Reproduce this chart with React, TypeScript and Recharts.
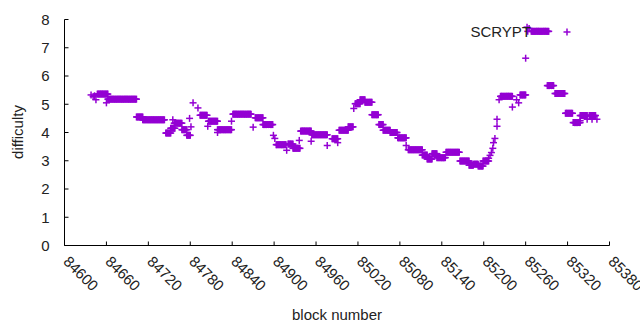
import React from "react";
import { ScatterChart, Scatter, XAxis, YAxis } from "recharts";

const PURPLE = "#9400d3";
const FONT = "'Liberation Sans', Arial, sans-serif";

const xTicks = [84600, 84660, 84720, 84780, 84840, 84900, 84960, 85020, 85080, 85140, 85200, 85260, 85320, 85380];
const yTicks = [0, 1, 2, 3, 4, 5, 6, 7, 8];

// runs of blocks that sit at the same difficulty (start block, end block, value)
const runStart = [84647, 84662, 84703, 84712, 84745, 84752, 84757, 84768, 84775, 84794, 84806, 84819, 84841, 84873, 84884, 84903, 84920, 84927, 84938, 84954, 84983, 84993, 85006, 85016, 85023, 85030, 85040, 85050, 85056, 85066, 85077, 85092, 85112, 85119, 85126, 85133, 85146, 85166, 85179, 85185, 85192, 85199, 85224, 85252, 85268, 85291, 85302, 85317, 85328, 85338, 85351];
const runEnd = [84662, 84703, 84712, 84743, 84752, 84758, 84768, 84775, 84780, 84804, 84819, 84839, 84867, 84884, 84898, 84917, 84927, 84937, 84953, 84976, 84991, 85006, 85013, 85023, 85030, 85040, 85049, 85056, 85066, 85076, 85089, 85112, 85119, 85126, 85133, 85145, 85165, 85179, 85185, 85192, 85199, 85207, 85241, 85260, 85293, 85300, 85316, 85327, 85338, 85348, 85360];
const runValue = [5.36, 5.18, 4.55, 4.45, 3.98, 4.15, 4.33, 4.1, 3.9, 4.61, 4.4, 4.1, 4.65, 4.52, 4.28, 3.57, 3.59, 3.44, 4.05, 3.92, 3.78, 4.08, 4.2, 5.02, 5.16, 5.07, 4.63, 4.28, 4.08, 4.0, 3.81, 3.39, 3.2, 3.06, 3.25, 3.11, 3.3, 2.99, 2.84, 2.88, 2.81, 2.99, 5.28, 5.33, 7.58, 5.66, 5.38, 4.68, 4.35, 4.6, 4.6];

// isolated blocks
const singleBlock = [84638, 84641, 84643, 84645, 84660, 84755, 84779, 84781, 84784, 84791, 84805, 84819, 84839, 84870, 84899, 84901, 84918, 84936, 84953, 84976, 84991, 85014, 85089, 85207, 85209, 85211, 85213, 85214, 85216, 85219, 85219, 85222, 85241, 85247, 85250, 85260, 85262, 85263, 85265, 85338, 85348, 85355, 85362];
const singleValue = [5.33, 5.27, 5.3, 5.16, 5.05, 4.45, 4.5, 4.2, 5.05, 4.87, 4.22, 4.0, 4.4, 4.19, 3.9, 3.79, 3.37, 3.72, 3.69, 3.54, 3.64, 4.85, 3.54, 3.09, 3.19, 3.29, 3.44, 3.64, 3.79, 4.47, 4.22, 5.16, 4.9, 5.16, 5.05, 6.63, 7.73, 7.58, 7.68, 4.42, 4.47, 4.47, 4.47];

const points: { block: number; difficulty: number }[] = [];
runStart.forEach((s, i) => {
  for (let b = s; b <= runEnd[i]; b++) points.push({ block: b, difficulty: runValue[i] });
});
singleBlock.forEach((b, i) => points.push({ block: b, difficulty: singleValue[i] }));

const Plus = (props: any) => {
  const { cx, cy } = props;
  if (cx == null || cy == null) return null;
  return (
    <g>
      <line x1={cx - 3.5} y1={cy} x2={cx + 3.5} y2={cy} stroke={PURPLE} strokeWidth={1.5} />
      <line x1={cx} y1={cy - 3.5} x2={cx} y2={cy + 3.5} stroke={PURPLE} strokeWidth={1.5} />
    </g>
  );
};

const BottomTick = (props: any) => {
  const { x, y, payload } = props;
  const tx = x - 2;
  const ty = y + 17;
  return (
    <g>
      <line x1={x} y1={y} x2={x} y2={y - 4} stroke="#000" />
      <text x={tx} y={ty} transform={`rotate(45 ${tx} ${ty})`} fontSize={15} fontFamily={FONT} fill="#222">
        {payload.value}
      </text>
    </g>
  );
};

const TopTick = (props: any) => {
  const { x, y } = props;
  return <line x1={x} y1={y} x2={x} y2={y + 4} stroke="#000" />;
};

const LeftTick = (props: any) => {
  const { x, y, payload } = props;
  return (
    <g>
      <line x1={x} y1={y} x2={x + 4} y2={y} stroke="#000" />
      <text x={x - 15} y={y} dy="0.36em" textAnchor="end" fontSize={15} fontFamily={FONT} fill="#222">
        {payload.value}
      </text>
    </g>
  );
};

const RightTick = (props: any) => {
  const { x, y } = props;
  return <line x1={x} y1={y} x2={x - 4} y2={y} stroke="#000" />;
};

export default function App() {
  return (
    <div style={{ position: "absolute", left: 0, top: 0, width: 640, height: 330, background: "#fff" }}>
      <ScatterChart width={640} height={330} margin={{ top: 19.5, right: 30.5, bottom: 0, left: 0 }}>
        <XAxis
          xAxisId="b"
          dataKey="block"
          type="number"
          domain={[84600, 85380]}
          ticks={xTicks}
          interval={0}
          height={84.5}
          tickSize={0}
          tickMargin={0}
          tickLine={false}
          axisLine={{ stroke: "#000" }}
          tick={<BottomTick />}
          label={{ value: "block number", position: "insideBottom", offset: 10, fontSize: 15, fontFamily: FONT, fill: "#222" }}
        />
        <XAxis
          xAxisId="t"
          orientation="top"
          type="number"
          domain={[84600, 85380]}
          ticks={xTicks}
          interval={0}
          height={0}
          tickSize={0}
          tickMargin={0}
          tickLine={false}
          axisLine={{ stroke: "#000" }}
          tick={<TopTick />}
        />
        <YAxis
          yAxisId="l"
          dataKey="difficulty"
          type="number"
          domain={[0, 8]}
          ticks={yTicks}
          interval={0}
          width={64.5}
          tickSize={0}
          tickMargin={0}
          tickLine={false}
          axisLine={{ stroke: "#000" }}
          tick={<LeftTick />}
          label={{
            content: (p: any) => (
              <text x={18} y={132} transform="rotate(-90 18 132)" textAnchor="middle" dy="0.36em" fontSize={15} fontFamily={FONT} fill="#222">
                difficulty
              </text>
            ),
          }}
        />
        <YAxis
          yAxisId="r"
          orientation="right"
          type="number"
          domain={[0, 8]}
          ticks={yTicks}
          interval={0}
          width={0}
          tickSize={0}
          tickMargin={0}
          tickLine={false}
          axisLine={{ stroke: "#000" }}
          tick={<RightTick />}
        />
        <Scatter xAxisId="b" yAxisId="l" name="SCRYPT" data={points} shape={<Plus />} isAnimationActive={false} />
      </ScatterChart>
      <svg width={640} height={330} style={{ position: "absolute", left: 0, top: 0, pointerEvents: "none" }}>
        <text x={531} y={37} textAnchor="end" fontSize={15} fontFamily={FONT} fill="#222">
          SCRYPT
        </text>
        <Plus cx={567} cy={32} />
      </svg>
    </div>
  );
}
